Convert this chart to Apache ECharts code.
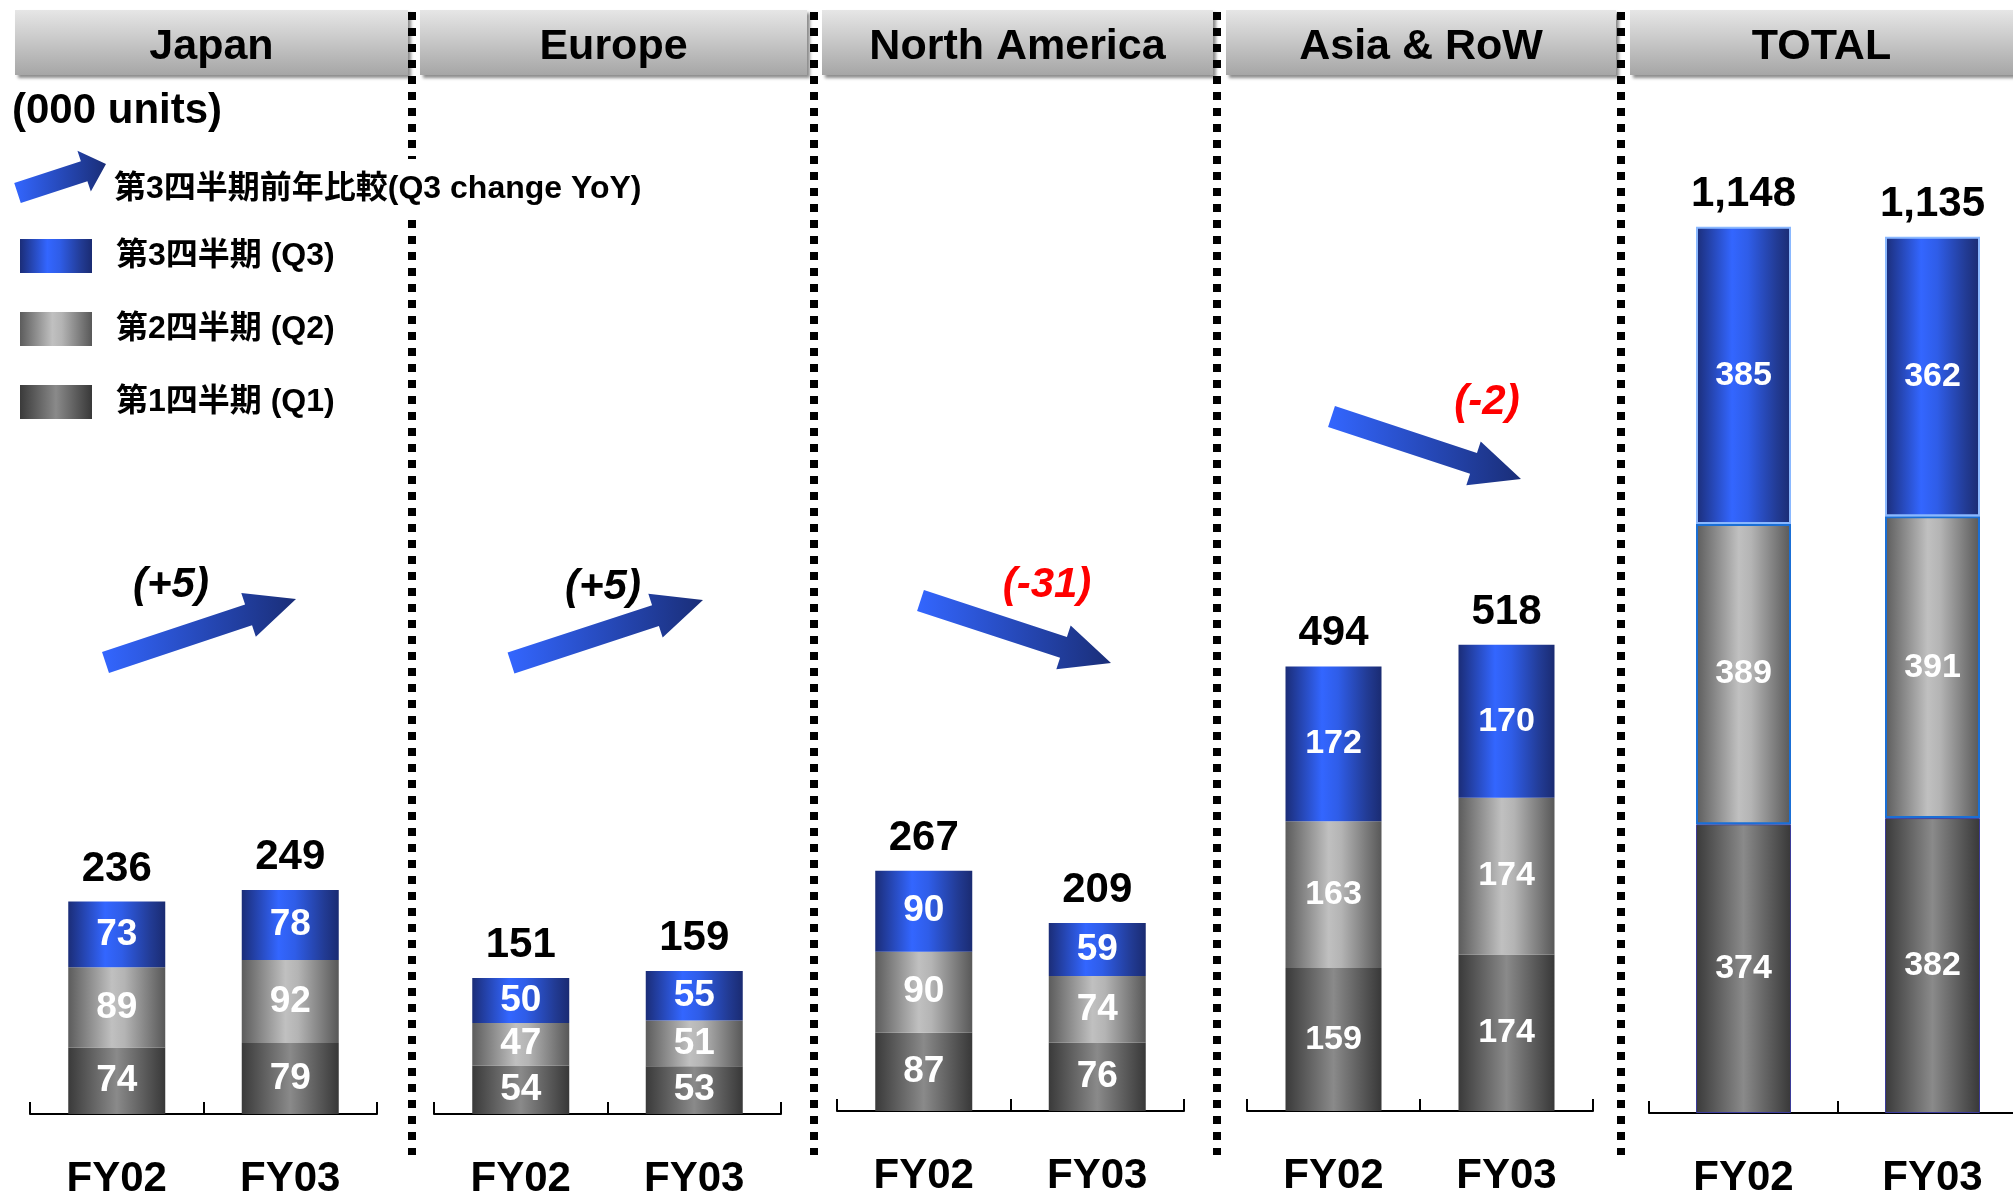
<!DOCTYPE html>
<html>
<head>
<meta charset="utf-8">
<title>Unit sales by region (000 units)</title>
<script src="https://cdn.jsdelivr.net/npm/echarts@6/dist/echarts.min.js"></script>
<style>
html, body { margin: 0; padding: 0; background: #fff; }
#chart { width: 2013px; height: 1195px; }
</style>
</head>
<body>
<div id="chart"></div>
<script>
// 数据 (000 units)
const regions = ['Japan', 'Europe', 'North America', 'Asia & RoW', 'TOTAL'];
const years = ['FY02', 'FY03'];
const q1Units = [[74, 79], [54, 53], [87, 76], [159, 174], [374, 382]];
const q2Units = [[89, 92], [47, 51], [90, 74], [163, 174], [389, 391]];
const q3Units = [[73, 78], [50, 55], [90, 59], [172, 170], [385, 362]];
const totalUnits = [[236, 249], [151, 159], [267, 209], [494, 518], [1148, 1135]];
const q3Change = ['(+5)', '(+5)', '(-31)', '(-2)'];
const seriesNames = ['第1四半期 (Q1)', '第2四半期 (Q2)', '第3四半期 (Q3)'];

const FONT = "'Liberation Sans', Arial, 'Noto Sans CJK JP', sans-serif";
const LG = echarts.graphic.LinearGradient;

// 布局
const panels = [
    {left: 30, width: 347, axisY: 1114, yMax: 600, barWidth: 97, labelSize: 37, head: [15, 408]},
    {left: 434, width: 347, axisY: 1114, yMax: 600, barWidth: 97, labelSize: 37, head: [420, 807]},
    {left: 837, width: 347, axisY: 1111, yMax: 600, barWidth: 97, labelSize: 37, head: [822, 1213]},
    {left: 1247, width: 346, axisY: 1111, yMax: 600, barWidth: 96, labelSize: 34, head: [1226, 1616]},
    {left: 1649, width: 378, axisY: 1113, yMax: 1200, barWidth: 95, labelSize: 34, head: [1630, 2020]}
];
const pxPerUnit = [0.9, 0.9, 0.9, 0.9, 0.772];
const dotLinesX = [412, 814, 1217, 1621];
// 箭头: [tailX, tailY, tipX, tipY, shaftW, headW, headL]
const arrows = [
    [17.5, 193, 106, 164, 21, 43, 23],
    [105.5, 662.5, 296, 599, 22, 46, 50],
    [511, 663, 703, 600, 22, 46, 50],
    [920.5, 600.5, 1111, 663, 22, 46, 50],
    [1331.5, 416.5, 1521, 479, 22, 46, 50]
];
const changePos = [[171, 585, '#000'], [603, 587, '#000'], [1047, 585, '#ff0000'], [1487, 402, '#ff0000']];

function fillQ1() {
    return new LG(0, 0, 1, 0, [
        {offset: 0, color: '#3a3a3a'}, {offset: 0.5, color: '#8a8a8a'}, {offset: 1, color: '#383838'}
    ]);
}
function fillQ2() {
    return new LG(0, 0, 1, 0, [
        {offset: 0, color: '#5c5c5c'}, {offset: 0.45, color: '#c0c0c0'},
        {offset: 0.58, color: '#b4b4b4'}, {offset: 1, color: '#585858'}
    ]);
}
function fillQ3() {
    return new LG(0, 0, 1, 0, [
        {offset: 0, color: '#1b2d78'}, {offset: 0.38, color: '#3366ff'},
        {offset: 0.55, color: '#2f5de8'}, {offset: 0.85, color: '#223b94'}, {offset: 1, color: '#1a2b72'}
    ]);
}
const fills = [fillQ1, fillQ2, fillQ3];
const totalBorders = [['#3b3b9a', 1], ['#1a6fd6', 2], ['#8ab8ff', 2]];

function arrowPoints(a) {
    const [tx, ty, hx, hy, sw, hw, hl] = a;
    const len = Math.hypot(hx - tx, hy - ty);
    const ux = (hx - tx) / len, uy = (hy - ty) / len;
    const nx = -uy, ny = ux;
    const kx = hx - ux * hl, ky = hy - uy * hl;
    const s = sw / 2, h = hw / 2;
    return [
        [tx + nx * s, ty + ny * s], [kx + nx * s, ky + ny * s], [kx + nx * h, ky + ny * h],
        [hx, hy],
        [kx - nx * h, ky - ny * h], [kx - nx * s, ky - ny * s], [tx - nx * s, ty - ny * s]
    ];
}

const chart = echarts.init(document.getElementById('chart'));

const grid = [], xAxis = [], yAxis = [], series = [];
panels.forEach((p, i) => {
    const plotH = p.yMax * pxPerUnit[i];
    grid.push({left: p.left, width: p.width, top: p.axisY - plotH, height: plotH, outerBoundsMode: 'none'});
    xAxis.push({
        type: 'category', gridIndex: i, data: years,
        axisLine: {lineStyle: {color: '#000', width: 2}},
        axisTick: {show: true, inside: true, length: 12, lineStyle: {color: '#000', width: 2}},
        axisLabel: {margin: 44, fontSize: 42, fontWeight: 'bold', color: '#000', fontFamily: FONT}
    });
    yAxis.push({type: 'value', gridIndex: i, min: 0, max: p.yMax, show: false});

    [q1Units, q2Units, q3Units].forEach((arr, k) => {
        const itemStyle = {color: fills[k]()};
        if (i === 4) {
            itemStyle.borderColor = totalBorders[k][0];
            itemStyle.borderWidth = totalBorders[k][1];
        }
        series.push({
            name: seriesNames[k], type: 'bar', stack: 'p' + i,
            xAxisIndex: i, yAxisIndex: i, barWidth: p.barWidth,
            data: arr[i], itemStyle: itemStyle,
            label: {
                show: true, position: 'inside', color: '#fff',
                fontSize: p.labelSize, fontWeight: 'bold', fontFamily: FONT
            }
        });
    });
    // 合计标签
    series.push({
        type: 'scatter', xAxisIndex: i, yAxisIndex: i, data: totalUnits[i],
        symbolSize: 1, itemStyle: {color: 'transparent', opacity: 1}, silent: true, z: 5,
        label: {
            show: true, position: 'top', distance: 11, color: '#000',
            fontSize: 42, fontWeight: 'bold', fontFamily: FONT,
            formatter: d => d.value.toLocaleString('en-US')
        }
    });
});

const graphic = [];
// 虚线分隔
dotLinesX.forEach(x => {
    graphic.push({
        type: 'line', z: 1,
        shape: {x1: x, y1: 12, x2: x, y2: 1155},
        style: {stroke: '#000', lineWidth: 8, lineDash: [8, 8]}
    });
});
// 标题栏
panels.forEach((p, i) => {
    graphic.push({
        type: 'rect', z: 2,
        shape: {x: p.head[0], y: 10, width: p.head[1] - p.head[0], height: 65},
        style: {
            fill: new LG(0, 0, 0, 1, [{offset: 0, color: '#e6e6e6'}, {offset: 1, color: '#a6a6a6'}]),
            shadowBlur: 3, shadowOffsetX: 3, shadowOffsetY: 3, shadowColor: 'rgba(0,0,0,0.45)'
        }
    });
    graphic.push({
        type: 'text', z: 3,
        style: {
            text: regions[i], x: (p.head[0] + Math.min(p.head[1], 2013)) / 2, y: 47,
            align: 'center', verticalAlign: 'middle',
            fontSize: 43, fontWeight: 'bold', fontFamily: FONT, fill: '#000'
        }
    });
});
graphic.push({
    type: 'text', z: 3,
    style: {
        text: '(000 units)', x: 12, y: 111, verticalAlign: 'middle',
        fontSize: 42, fontWeight: 'bold', fontFamily: FONT, fill: '#000'
    }
});
graphic.push({
    type: 'text', z: 5,
    style: {
        text: '第3四半期前年比較(Q3 change YoY)', x: 110, y: 189, verticalAlign: 'middle',
        fontSize: 32, fontWeight: 'bold', fontFamily: FONT, fill: '#000',
        backgroundColor: '#fff', padding: [14, 4]
    }
});
// 箭头
arrows.forEach(a => {
    graphic.push({
        type: 'polygon', z: 6,
        shape: {points: arrowPoints(a)},
        style: {
            fill: new LG(0, 0, 1, 0, [{offset: 0, color: '#3366ff'}, {offset: 1, color: '#1a2e78'}])
        }
    });
});
q3Change.forEach((t, i) => {
    graphic.push({
        type: 'text', z: 6,
        style: {
            text: t, x: changePos[i][0], y: changePos[i][1],
            align: 'center', verticalAlign: 'middle',
            fontSize: 42, fontWeight: 'bold', fontStyle: 'italic', fontFamily: FONT,
            fill: changePos[i][2]
        }
    });
});

chart.setOption({
    animation: false,
    backgroundColor: '#fff',
    legend: {
        data: [seriesNames[2], seriesNames[1], seriesNames[0]],
        orient: 'vertical', left: 15, top: 234,
        itemWidth: 72, itemHeight: 34, itemGap: 39, icon: 'rect',
        selectedMode: false,
        itemStyle: {borderWidth: 0},
        textStyle: {
            fontSize: 32, fontWeight: 'bold', color: '#000', fontFamily: FONT,
            padding: [0, 0, 0, 19]
        }
    },
    grid: grid,
    xAxis: xAxis,
    yAxis: yAxis,
    series: series,
    graphic: graphic
});
</script>
</body>
</html>
